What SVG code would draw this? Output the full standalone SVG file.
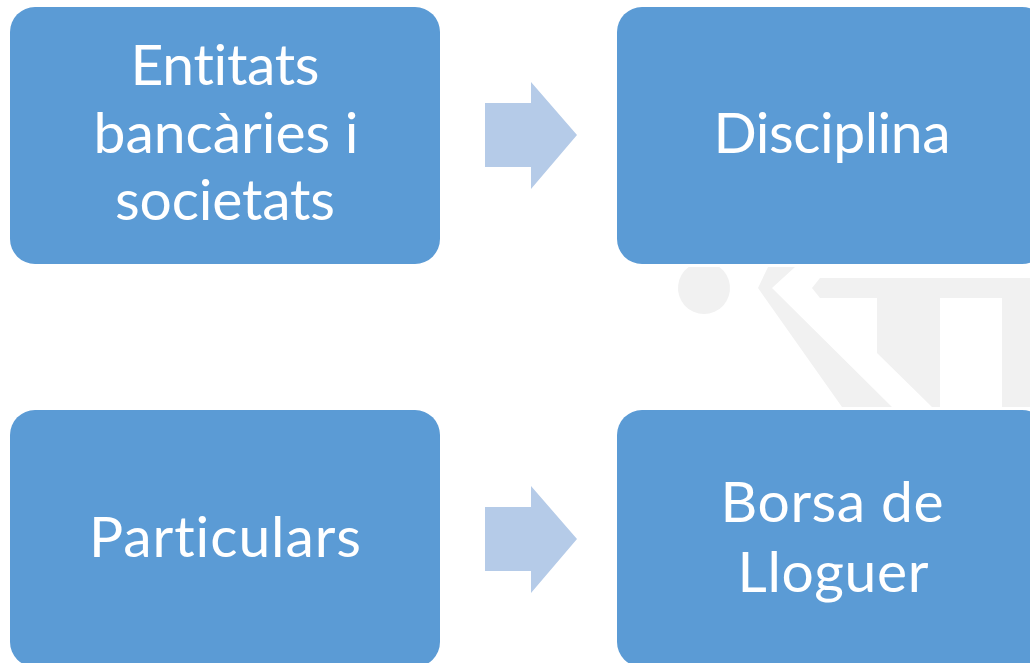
<svg xmlns="http://www.w3.org/2000/svg" width="1030" height="663" viewBox="0 0 1030 663">
<style>
.box{fill:#5b9bd5}
.arrow{fill:#b5cbe8}
.wm{fill:#f1f1f1}
text{font-family:"Lato","Noto Sans",sans-serif;font-size:57px;fill:#fff;text-anchor:middle;font-variant-ligatures:none}
</style>
<rect width="1030" height="663" fill="#fff"/>
<g id="watermark">
<path class="wm" d="M688.7,267H719.3A26,26 0 1 1 688.7,267Z"/>
<polygon class="wm" points="768,267 795,267 772,288 892,407 842,407 758,288"/>
<polygon class="wm" points="812,288 820,278 1030,278 1030,407 1002,407 1002,298 940,298 940,407 932,407 877,353 877,298 820,298"/>
</g>
<g id="connectors">
<polygon class="arrow" points="485,103 531,103 531,82 577,135 531,189 531,167 485,167"/>
<polygon class="arrow" points="485,507 531,507 531,486 577,539 531,593 531,571 485,571"/>
</g>
<g id="node1"><rect class="box" x="10" y="7" width="430" height="257" rx="25"/>
<text x="225" y="85" textLength="189">Entitats</text><text x="226" y="153" textLength="265">bancàries i</text><text x="225" y="220" textLength="220">societats</text></g>
<g id="node2"><rect class="box" x="617" y="7" width="430" height="257" rx="25"/>
<text x="832" y="153" textLength="237">Disciplina</text></g>
<g id="node3"><rect class="box" x="10" y="410" width="430" height="257" rx="25"/>
<text x="225" y="557" textLength="272">Particulars</text></g>
<g id="node4"><rect class="box" x="617" y="410" width="430" height="257" rx="25"/>
<text x="832" y="522" textLength="223">Borsa de</text><text x="833" y="592" textLength="191">Lloguer</text></g>
</svg>
